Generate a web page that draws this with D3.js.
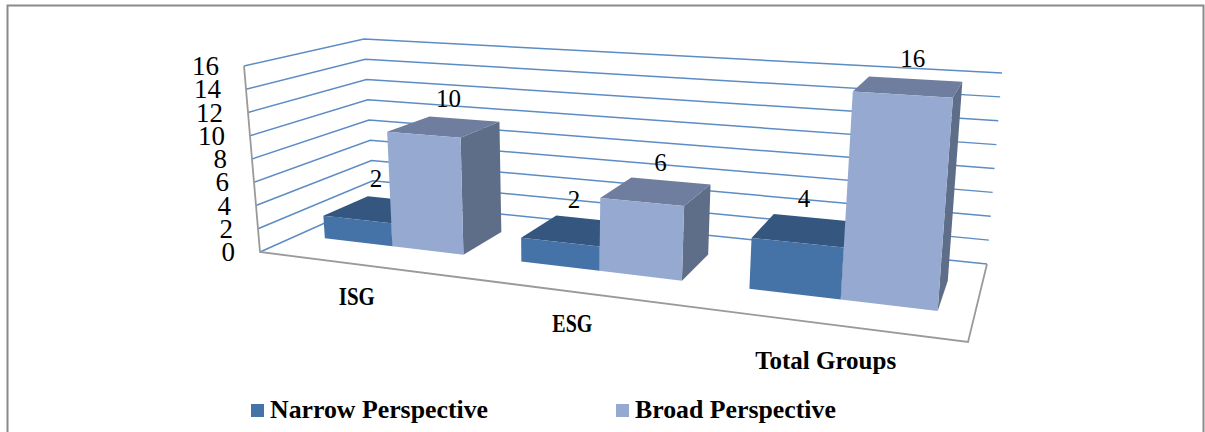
<!DOCTYPE html>
<html>
<head>
<meta charset="utf-8">
<script src="https://cdn.jsdelivr.net/npm/d3@7"></script>
<style>
html, body { margin: 0; padding: 0; background: #fff; overflow: hidden; }
svg { display: block; }
text { font-family: "Liberation Serif", serif; fill: #000; }
</style>
</head>
<body>
<svg id="chart" width="1205" height="432"></svg>
<script>
const categories = ["ISG", "ESG", "Total Groups"];
const seriesNames = ["Narrow Perspective", "Broad Perspective"];
const narrowValues = [2, 2, 4];
const broadValues = [10, 6, 16];
const valueTicks = [0, 2, 4, 6, 8, 10, 12, 14, 16];

const palette = {
  "Narrow Perspective": { front: "#4572a7", top: "#35567f", side: "#2f4d72" },
  "Broad Perspective": { front: "#95a9d1", top: "#6f7e9e", side: "#5e6d88" }
};

// Screen corners of the 3D plot box: floor and ceiling, front and back.
const floorBox = { fl: [260, 252], fr: [968, 342], bl: [374, 201], br: [987, 264] };
const ceilBox = { fl: [244, 66], fr: [985, 114], bl: [364, 39], br: [1002, 73] };

// Homography taking the unit square (x along the front, z into the depth) to a quad.
function unitSquareToQuad(q) {
  const [x0, y0] = q.fl, [x1, y1] = q.fr, [x2, y2] = q.br, [x3, y3] = q.bl;
  const dx1 = x1 - x2, dx2 = x3 - x2, sx = x0 - x1 + x2 - x3;
  const dy1 = y1 - y2, dy2 = y3 - y2, sy = y0 - y1 + y2 - y3;
  const det = dx1 * dy2 - dx2 * dy1;
  const g = (sx * dy2 - dx2 * sy) / det;
  const h = (dx1 * sy - sx * dy1) / det;
  const a = x1 - x0 + g * x1, b = x3 - x0 + h * x3, c = x0;
  const d = y1 - y0 + g * y1, e = y3 - y0 + h * y3, f = y0;
  return (u, v) => {
    const w = g * u + h * v + 1;
    return [(a * u + b * v + c) / w, (d * u + e * v + f) / w];
  };
}
const floorAt = unitSquareToQuad(floorBox);
const ceilAt = unitSquareToQuad(ceilBox);

const heightScale = d3.scaleLinear().domain([0, 16]).range([0, 1]);
const depthScale = d3.scaleLinear().domain([0, 1]).range([0.3, 0.7]);
const categoryScale = d3.scaleBand().domain(categories).range([0.003, 1.003])
  .paddingInner(0.28).paddingOuter(0.14);
const seriesScale = d3.scaleBand().domain(seriesNames).range([0, categoryScale.bandwidth()]);

function project(x, value, z) {
  const t = heightScale(value);
  const p0 = floorAt(x, z), p1 = ceilAt(x, z);
  return [p0[0] + (p1[0] - p0[0]) * t, p0[1] + (p1[1] - p0[1]) * t];
}

const svg = d3.select("#chart");
const outline = d3.line().curve(d3.curveLinearClosed);
const segment = d3.line();

// Outer chart frame; its lower edge runs past the page.
svg.append("rect").attr("x", 7.5).attr("y", 5.5).attr("width", 1196).attr("height", 500)
  .attr("fill", "#fff").attr("stroke", "#8a8a8a").attr("stroke-width", 2);

// Gridlines on the left and back walls.
svg.append("g").selectAll("path").data(valueTicks).join("path")
  .attr("d", v => segment([project(0, v, 0), project(0, v, 1), project(1, v, 1)]))
  .attr("fill", "none").attr("stroke", "#5c8cc4").attr("stroke-width", 1.5);

// Front and right floor edges, plus the value axis.
svg.append("path")
  .attr("d", segment([project(1, 0, 1), project(1, 0, 0), project(0, 0, 0), project(0, 16, 0)]))
  .attr("fill", "none").attr("stroke", "#9a9a9a").attr("stroke-width", 1.8);

// Bars are built from faces: front, top and right side.
const valuesBySeries = { "Narrow Perspective": narrowValues, "Broad Perspective": broadValues };
const bars = seriesNames.flatMap(name => categories.map((cat, i) => ({
  name, cat, value: valuesBySeries[name][i],
  x0: categoryScale(cat) + seriesScale(name),
  x1: categoryScale(cat) + seriesScale(name) + seriesScale.bandwidth()
})));

const z0 = depthScale(0), z1 = depthScale(1);
const barGroups = svg.append("g").selectAll("g").data(bars).join("g");
barGroups.append("path").attr("fill", d => palette[d.name].side)
  .attr("d", d => outline([project(d.x1, 0, z0), project(d.x1, 0, z1), project(d.x1, d.value, z1), project(d.x1, d.value, z0)]));
barGroups.append("path").attr("fill", d => palette[d.name].top)
  .attr("d", d => outline([project(d.x0, d.value, z0), project(d.x1, d.value, z0), project(d.x1, d.value, z1), project(d.x0, d.value, z1)]));
barGroups.append("path").attr("fill", d => palette[d.name].front)
  .attr("d", d => outline([project(d.x0, 0, z0), project(d.x1, 0, z0), project(d.x1, d.value, z0), project(d.x0, d.value, z0)]));

// Value labels above each bar; the shorter series sits a little further left and up.
const labelShift = { "Narrow Perspective": [-3, -22.5], "Broad Perspective": [4, -20] };
svg.append("g").selectAll("text").data(bars).join("text")
  .attr("text-anchor", "middle").attr("font-size", 25)
  .attr("x", d => project((d.x0 + d.x1) / 2, d.value, 0.5)[0] + labelShift[d.name][0])
  .attr("y", d => project((d.x0 + d.x1) / 2, d.value, 0.5)[1] + labelShift[d.name][1])
  .text(d => d.value);

// Value axis tick labels follow the leaning front-left edge.
svg.append("g").selectAll("text").data(valueTicks).join("text")
  .attr("text-anchor", "end").attr("font-size", 27)
  .attr("x", v => project(0, v, 0)[0] - 25)
  .attr("y", v => project(0, v, 0)[1] + 9)
  .text(v => v);

// Category labels sit below the front floor edge, squeezed to their set widths.
const categoryLabelWidths = [36, 40, 141];
const categoryLabelDrops = [41, 40, 45];
svg.append("g").selectAll("text").data(categories).join("text")
  .attr("text-anchor", "middle").attr("font-size", 25).attr("font-weight", "bold")
  .attr("textLength", (c, i) => categoryLabelWidths[i]).attr("lengthAdjust", "spacingAndGlyphs")
  .attr("x", c => project(categoryScale(c) + categoryScale.bandwidth() / 2, 0, 0)[0] - 1)
  .attr("y", (c, i) => project(categoryScale(c) + categoryScale.bandwidth() / 2, 0, 0)[1] + categoryLabelDrops[i])
  .text(c => c);

// Legend.
const legendScale = d3.scaleOrdinal().domain(seriesNames).range([251, 616]);
const legend = svg.append("g").selectAll("g").data(seriesNames).join("g")
  .attr("transform", n => `translate(${legendScale(n)},404)`);
legend.append("rect").attr("width", 13).attr("height", 13).attr("fill", n => palette[n].front);
legend.append("text").attr("x", 19).attr("y", 14).attr("font-size", 25.8).attr("font-weight", "bold").text(n => n);
</script>
</body>
</html>
